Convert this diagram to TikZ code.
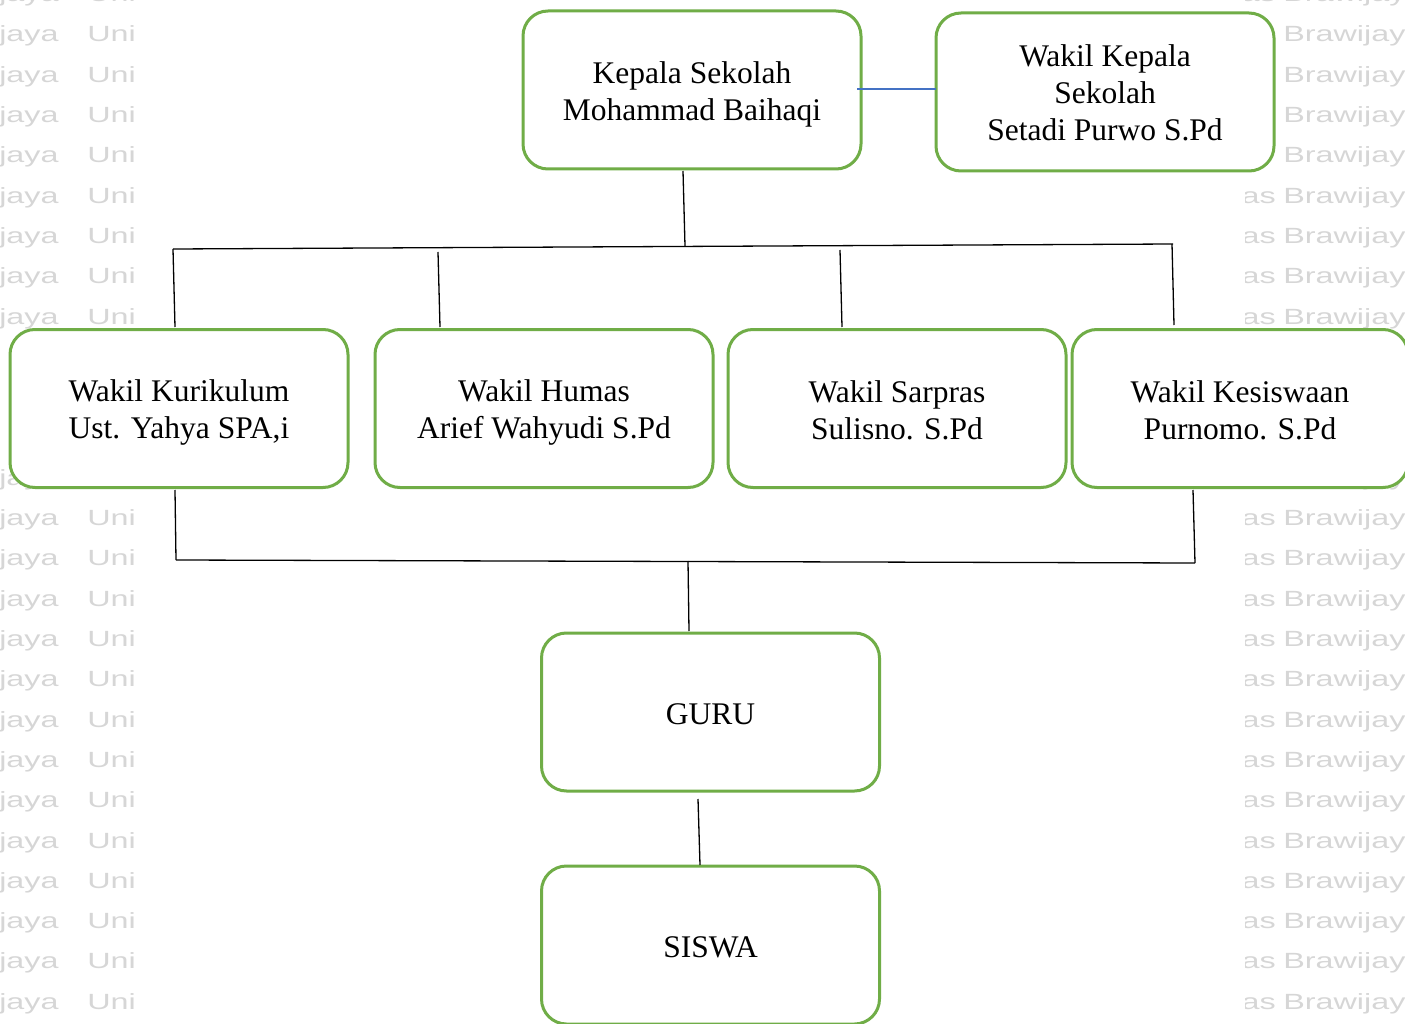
\documentclass[tikz,border=0pt]{standalone}
\usepackage{fontspec}
\setmainfont{Liberation Serif}
\newfontfamily\wmfont{Liberation Sans}
\definecolor{boxgreen}{RGB}{112,173,71}
\definecolor{linkblue}{RGB}{68,114,196}
\definecolor{wmgray}{RGB}{214,214,214}
\newcommand\bxs{\rule[-6pt]{0pt}{36pt}}
\tikzset{
  orgbox/.style={draw=boxgreen, line width=3pt, rounded corners=25pt, fill=white,
    minimum width=338pt, minimum height=158pt, inner sep=0pt, align=center,
    font=\fontsize{31.5}{37}\selectfont},
  conn/.style={draw=black, line width=1.3pt},
  wmk/.style={font=\wmfont\fontsize{22}{22}\selectfont, text=wmgray, inner sep=0pt, xscale=1.47}
}
\begin{document}
\begin{tikzpicture}[x=1pt,y=-1pt]
\useasboundingbox (0,0) rectangle (1405,1024);
\clip (0,0) rectangle (1405,1024);
% watermark (rows hidden behind the middle boxes are left out)
\foreach \k in {-1,...,7,11,12,...,24}{
  \pgfmathsetmacro\yy{42+40.3*\k}
  \node[wmk, anchor=base west] (wa\k) at (-1,\yy) {jaya};
  \node[wmk, anchor=base west] (wb\k) at (87,\yy) {Univ};
  \node[wmk, anchor=base east] (wc\k) at (1276,\yy) {itas};
  \node[wmk, anchor=base west] (wd\k) at (1283,\yy) {Brawijaya};
}
\fill[white] (135,-20) rectangle (1245,1044);
\fill[white] (1245,12) rectangle (1281,176);
% boxes
\node[orgbox] (kepala) at (692,90) {\bxs Kepala Sekolah\\Mohammad Baihaqi\bxs};
\node[orgbox] (wakep) at (1105,92) {\bxs Wakil Kepala\\Sekolah\\Setadi Purwo S.Pd\bxs};
\node[orgbox] (kur) at (179,408.5) {\bxs Wakil Kurikulum\\Ust. Yahya SPA,i\bxs};
\node[orgbox] (hum) at (544,408.5) {\bxs Wakil Humas\\Arief Wahyudi S.Pd\bxs};
\node[orgbox] (sar) at (897,408.5) {\bxs Wakil Sarpras\\Sulisno. S.Pd\bxs};
\node[orgbox, minimum width=336pt] (kes) at (1240,408.5) {\bxs Wakil Kesiswaan\\Purnomo. S.Pd\bxs};
\node[orgbox] (guru) at (710.5,712) {\bxs GURU};
\node[orgbox] (siswa) at (710.5,945) {\bxs SISWA};
% connector points
\coordinate (kb) at (683,171);
\coordinate (kt) at (685,246);
\coordinate (busL) at (173,249);
\coordinate (busR) at (1173,244);
\coordinate (kurT) at (175,327);
\coordinate (humA) at (438,252);
\coordinate (humT) at (440,327);
\coordinate (sarA) at (840,250);
\coordinate (sarT) at (842,327);
\coordinate (kesA) at (1172,244);
\coordinate (kesT) at (1174,325);
\coordinate (blueA) at (857,89);
\coordinate (blueB) at (936,89);
\coordinate (kurB) at (175,490);
\coordinate (lowL) at (176,560);
\coordinate (lowR) at (1195,563);
\coordinate (kesB) at (1193,490);
\coordinate (lowM) at (688,561);
\coordinate (guruT) at (689,631);
\coordinate (guruB) at (698,799);
\coordinate (siswaT) at (700,865);
% connectors
\draw[conn] (kb) -- (kt);
\draw[conn] (busL) -- (busR);
\draw[conn] (busL) -- (kurT);
\draw[conn] (humA) -- (humT);
\draw[conn] (sarA) -- (sarT);
\draw[conn] (kesA) -- (kesT);
\draw[draw=linkblue, line width=1.2pt] (blueA) -- (blueB);
\draw[conn] (kurB) -- (lowL);
\draw[conn] (lowL) -- (lowR);
\draw[conn] (kesB) -- (lowR);
\draw[conn] (lowM) -- (guruT);
\draw[conn] (guruB) -- (siswaT);
\end{tikzpicture}
\end{document}
